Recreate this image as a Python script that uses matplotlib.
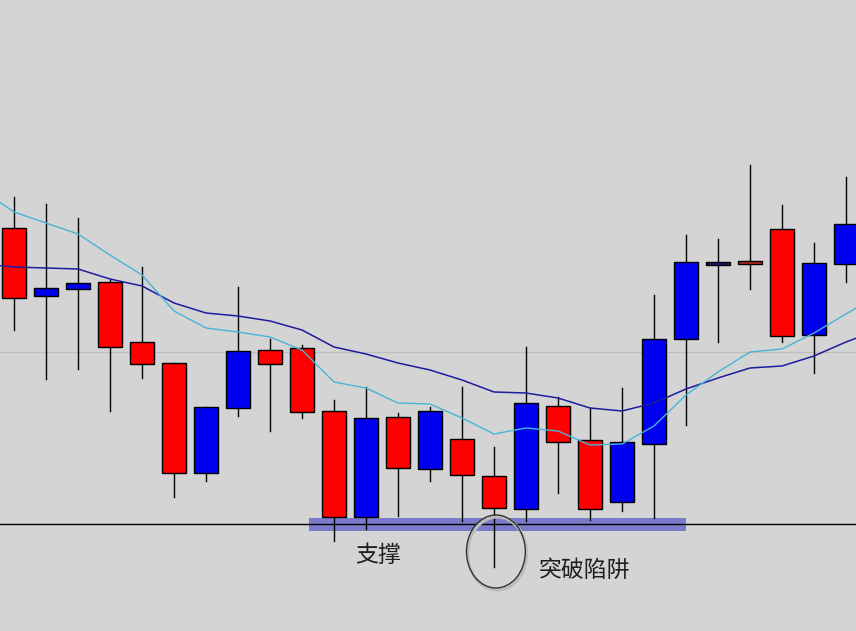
import matplotlib
matplotlib.use('Agg')
from matplotlib import pyplot as plt
from matplotlib.patches import Rectangle, Ellipse
import numpy as np

plt.rcParams['font.family'] = ['Noto Sans CJK SC', 'DejaVu Sans']

# candles (price units)
opens  = [403, 335, 342, 349, 289, 268, 158, 223, 281, 283, 220, 114, 214, 162, 192, 155, 122, 225, 191, 129, 187, 292, 366, 370, 402, 296, 367]
highs  = [434, 427, 413, 351, 364, 268, 224, 344, 292, 286, 231, 244, 218, 224, 244, 184, 284, 234, 223, 243, 336, 396, 392, 466, 426, 388, 454]
lows   = [301, 252, 262, 220, 253, 134, 150, 215, 200, 213,  90, 102, 115, 150, 110,  64, 110, 138, 111, 120, 113, 206, 289, 342, 289, 258, 349]
closes = [333, 343, 348, 284, 267, 158, 224, 280, 267, 219, 114, 213, 163, 220, 156, 123, 228, 189, 122, 189, 292, 369, 369, 367, 295, 368, 407]

# moving averages, from one bar before the first candle to one after the last
ma_x = list(range(-1, 28))
ma_fast = [441, 419, 408, 397, 376, 356, 320, 303, 299, 294, 281, 249, 243, 228, 227, 213, 197, 203, 200, 186, 187, 205, 236, 259, 279, 282, 298, 317, 336]
ma_slow = [367, 364, 363, 362, 352, 345, 328, 318, 315, 310, 301, 284, 277, 268, 261, 251, 239, 238, 233, 223, 220, 228, 242, 253, 263, 265, 275, 289, 301]

support = 107
support_from, support_to = 9.22, 21.0
gray_level = 279
trap_bar = 15

label_support = '支撑'
label_trap = '突破陷阱'

#--------------------------------------------------------
bg = '#d4d4d4'
fig = plt.figure(figsize=(8.56, 6.31), dpi=100, facecolor=bg)
ax = fig.add_axes([0, 0, 1, 1])
ax.set_facecolor(bg)
ax.set_xlim(-0.4375, 26.3125)
ax.set_ylim(0, 631)
ax.axis('off')

ax.axhline(gray_level, color='#bdbdbd', lw=0.9, zorder=0.5)
ax.add_patch(Rectangle((support_from, support - 6.5), support_to - support_from, 13,
                       facecolor='#7b7bcb', edgecolor='none', zorder=1))
ax.axhline(support, color='black', lw=1, zorder=1.2)

w = 0.78
for i in range(len(opens)):
    o, h, l, c = opens[i], highs[i], lows[i], closes[i]
    if c >= o:
        col = '#0000f0' if c - o > 5 else '#1a1a70'
    else:
        col = '#ff0000' if o - c > 5 else '#c02828'
    ax.plot([i, i], [l, h], color='black', lw=1, zorder=2)
    lo = min(o, c)
    ax.add_patch(Rectangle((i - w / 2, lo), w, max(abs(c - o), 3), facecolor=col,
                           edgecolor='black', lw=1, zorder=2.5))

ax.plot(ma_x, ma_slow, color='#1c1c9e', lw=1.1, zorder=3)
ax.plot(ma_x, ma_fast, color='#48b4d8', lw=1.0, zorder=3)

# circle around the false break
ax.add_patch(Ellipse((trap_bar + 0.1, 77.5), 1.84, 73, facecolor='none',
                     edgecolor='#bcbcbc', lw=2.2, zorder=3.5))
ax.add_patch(Ellipse((trap_bar + 0.06, 79.5), 1.84, 73, facecolor='none',
                     edgecolor='#333333', lw=1, zorder=4))

ax.text(11.375, 76, label_support, fontsize=16.5, color='#1e1e1e', ha='center', va='center', zorder=5)
ax.text(17.84, 61, label_trap, fontsize=16.5, color='#1e1e1e', ha='center', va='center', zorder=5)

fig.savefig('out.png', dpi=100, facecolor=bg)
